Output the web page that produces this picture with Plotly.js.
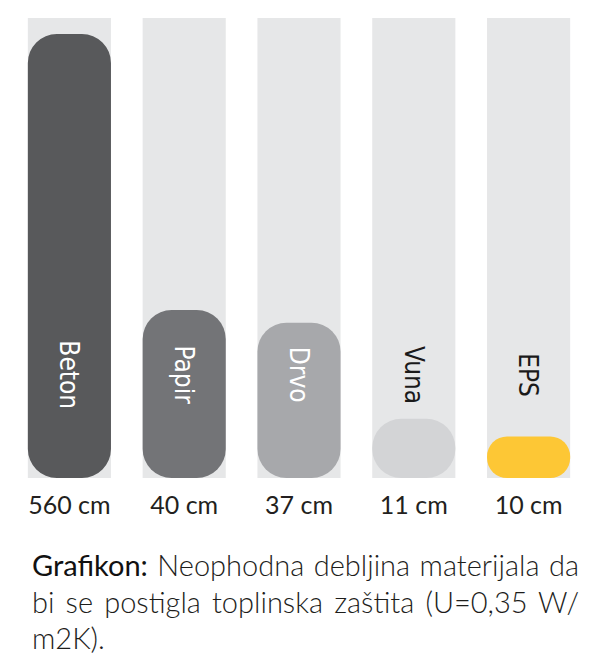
<!DOCTYPE html>
<html>
<head>
<meta charset="utf-8">
<script src="https://cdn.plot.ly/plotly-3.0.1.min.js"></script>
<style>
  html, body { margin: 0; padding: 0; background: #ffffff; }
  #wrap { position: relative; width: 596px; height: 666px; overflow: hidden; }
  #chart { position: absolute; left: 0; top: 0; width: 596px; height: 666px; }
  #caption { position: absolute; left: 32px; top: 547px; width: 547px;
             font-family: Lato, sans-serif; font-size: 29px; line-height: 36.5px;
             color: #1d1d1b; font-weight: 300; white-space: nowrap; }
  #caption .j { text-align: justify; text-align-last: justify; }
  #caption b { font-weight: 400; color: #111111; }
</style>
</head>
<body>
<div id="wrap">
  <div id="chart"></div>
  <div id="caption">
    <div class="j"><b>Grafikon:</b> Neophodna debljina materijala da</div>
    <div class="j">bi se postigla toplinska zaštita (U=0,35 W/</div>
    <div>m2K).</div>
  </div>
</div>
<script>
// ---- data ----
const materials = ['Beton', 'Papir', 'Drvo', 'Vuna', 'EPS'];
const thicknessCm = [560, 40, 37, 11, 10];
// bar lengths as drawn in the picture (scale is broken: Beton's bar is cut)
const drawnLength = [105.8, 40, 37, 14.1, 9.9];
const trackLength = [109.6, 109.6, 109.6, 109.6, 109.6];
const tickLabels = thicknessCm.map(v => v + ' cm');
const barColors = ['#58595b', '#737477', '#a7a8ab', '#d3d4d6', '#fdc735'];
const labelColors = ['#ffffff', '#ffffff', '#ffffff', '#1a1a1a', '#1a1a1a'];
const labelPos = 24.6;

const traces = [
  {
    type: 'bar', x: materials, y: trackLength,
    marker: { color: '#e6e7e8' }, hoverinfo: 'skip'
  },
  {
    type: 'bar', x: materials, y: drawnLength, base: materials.map(() => 0),
    marker: { color: barColors, cornerradius: 29 }, hoverinfo: 'skip'
  }
];

const annotations = materials.map((m, i) => ({
  x: m, y: labelPos, xref: 'x', yref: 'y', text: m, textangle: 90,
  showarrow: false,
  font: { family: 'Liberation Sans Narrow, DejaVu Sans Condensed, Open Sans, sans-serif', size: 26, color: labelColors[i] }
}));

const layout = {
  width: 596, height: 666,
  margin: { l: 12, r: 10, t: 18, b: 188, pad: 0 },
  paper_bgcolor: '#ffffff', plot_bgcolor: '#ffffff',
  barmode: 'overlay', bargap: 0.276,
  showlegend: false,
  xaxis: {
    type: 'category', tickvals: materials, ticktext: tickLabels,
    ticks: '', showline: false, showgrid: false, zeroline: false,
    ticklabelstandoff: 10,
    tickfont: { family: 'Lato, sans-serif', size: 25, color: '#231f20' }
  },
  yaxis: { range: [0, 109.6], visible: false, showgrid: false, zeroline: false },
  annotations: annotations
};

Plotly.newPlot('chart', traces, layout, { staticPlot: true, displayModeBar: false });
</script>
</body>
</html>
